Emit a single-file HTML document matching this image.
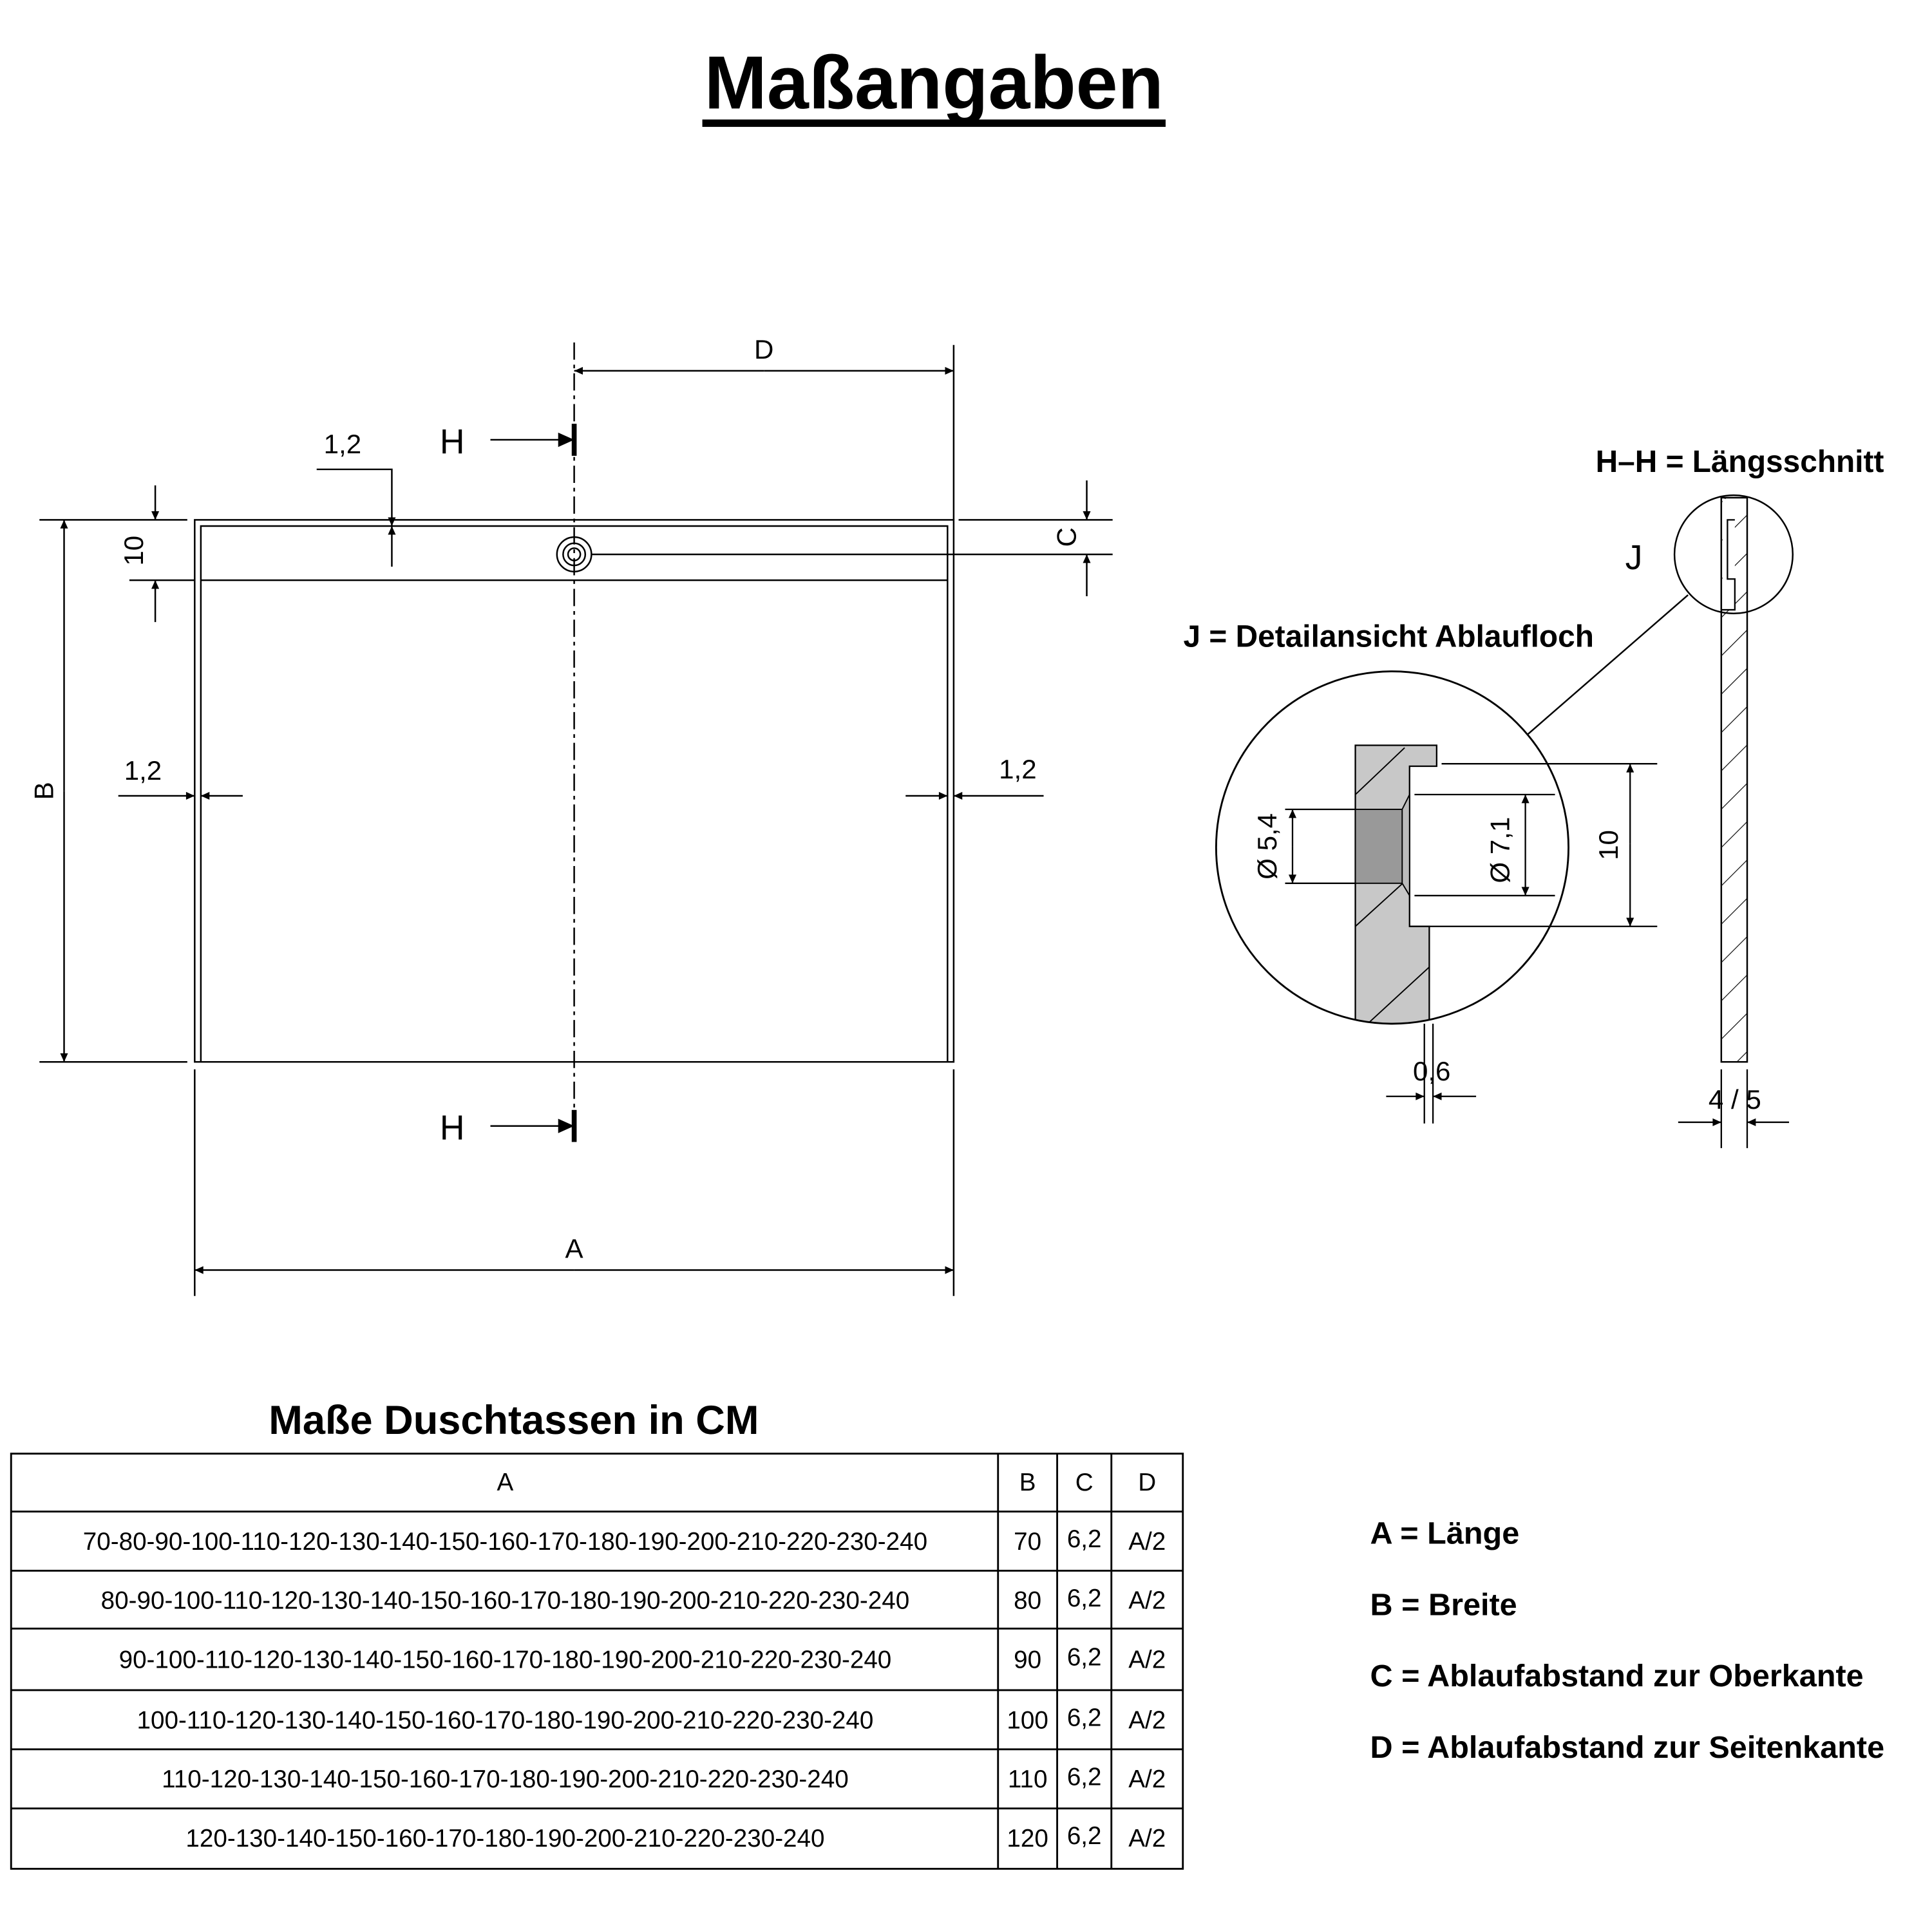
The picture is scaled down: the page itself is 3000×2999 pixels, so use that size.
<!DOCTYPE html>
<html><head><meta charset="utf-8"><style>
html,body{margin:0;padding:0;background:#fff}
svg{display:block}
text{font-family:"Liberation Sans",sans-serif;fill:#000}
</style></head><body>
<svg width="3000" height="2999" viewBox="0 0 1568 1567.5" xmlns="http://www.w3.org/2000/svg">
<defs>
<marker id="ar" viewBox="0 0 10 10" refX="10" refY="5" markerWidth="18" markerHeight="7" markerUnits="userSpaceOnUse" orient="auto"><path d="M0,0.5 L10,5 L0,9.5 z" fill="#000"/></marker>
<marker id="big" viewBox="0 0 10 10" refX="10" refY="5" markerWidth="32" markerHeight="13" markerUnits="userSpaceOnUse" orient="auto"><path d="M0,0.5 L10,5 L0,9.5 z" fill="#000"/></marker>
<pattern id="hatch" width="22" height="22" patternUnits="userSpaceOnUse" patternTransform="rotate(45)"><line x1="0" y1="0" x2="0" y2="22" stroke="#000" stroke-width="1.2"/></pattern>
<clipPath id="bc"><circle cx="1130" cy="688" r="143"/></clipPath>
</defs>
<rect width="1568" height="1568" fill="#fff"/>
<text x="758" y="88" font-size="61" font-weight="bold" text-anchor="middle">Maßangaben</text>
<rect x="570" y="97" width="376" height="6" fill="#000"/>

<g stroke="#000" stroke-width="1.3" fill="none">
<rect x="158" y="422" width="616" height="440"/>
<polyline points="163,862 163,427 769,427 769,862"/>
<line x1="163" y1="471" x2="769" y2="471"/>
<circle cx="466" cy="450" r="14"/><circle cx="466" cy="450" r="9"/><circle cx="466" cy="450" r="5"/>
<line x1="480" y1="450" x2="769" y2="450"/>
<line x1="466" y1="278" x2="466" y2="925" stroke-dasharray="14,4,3,4"/>
<line x1="774" y1="280" x2="774" y2="422"/>
<line x1="620" y1="301" x2="774" y2="301" marker-end="url(#ar)"/>
<line x1="620" y1="301" x2="466" y2="301" marker-end="url(#ar)"/>
<line x1="158" y1="868" x2="158" y2="1052"/><line x1="774" y1="868" x2="774" y2="1052"/>
<line x1="466" y1="1031" x2="774" y2="1031" marker-end="url(#ar)"/>
<line x1="466" y1="1031" x2="158" y2="1031" marker-end="url(#ar)"/>
<line x1="32" y1="422" x2="152" y2="422"/><line x1="32" y1="862" x2="152" y2="862"/>
<line x1="52" y1="642" x2="52" y2="862" marker-end="url(#ar)"/>
<line x1="52" y1="642" x2="52" y2="422" marker-end="url(#ar)"/>
<line x1="105" y1="471" x2="158" y2="471"/>
<line x1="126" y1="394" x2="126" y2="422" marker-end="url(#ar)"/>
<line x1="126" y1="505" x2="126" y2="471" marker-end="url(#ar)"/>
<polyline points="257,381 318,381 318,427" marker-end="url(#ar)"/>
<line x1="318" y1="460" x2="318" y2="427" marker-end="url(#ar)"/>
<line x1="96" y1="646" x2="158" y2="646" marker-end="url(#ar)"/>
<line x1="197" y1="646" x2="163" y2="646" marker-end="url(#ar)"/>
<line x1="735" y1="646" x2="769" y2="646" marker-end="url(#ar)"/>
<line x1="847" y1="646" x2="774" y2="646" marker-end="url(#ar)"/>
<line x1="778" y1="422" x2="903" y2="422"/><line x1="769" y1="450" x2="903" y2="450"/>
<line x1="882" y1="390" x2="882" y2="422" marker-end="url(#ar)"/>
<line x1="882" y1="484" x2="882" y2="450" marker-end="url(#ar)"/>
<line x1="398" y1="357" x2="466" y2="357" marker-end="url(#big)"/>
<line x1="398" y1="914" x2="466" y2="914" marker-end="url(#big)"/>
</g>
<rect x="464" y="344" width="4" height="26" fill="#000"/>
<rect x="464" y="901" width="4" height="26" fill="#000"/>
<g font-size="22" text-anchor="middle">
<text x="620" y="291">D</text>
<text x="466" y="1021">A</text>
<text x="278" y="368">1,2</text>
<text x="116" y="633">1,2</text>
<text x="826" y="632">1,2</text>
<text x="367" y="368" font-size="28">H</text>
<text x="367" y="925" font-size="28">H</text>
<text transform="translate(43,642) rotate(-90)">B</text>
<text transform="translate(116,447) rotate(-90)">10</text>
<text transform="translate(873,436) rotate(-90)">C</text>
</g>

<text x="1412" y="383" font-size="25" font-weight="bold" text-anchor="middle">H–H = Längsschnitt</text>
<rect x="1397" y="404" width="21" height="458" fill="url(#hatch)" stroke="#000" stroke-width="1.3"/>
<rect x="1398" y="405" width="10" height="90" fill="#fff"/>
<polyline points="1397,404 1397,495 1408,495 1408,470 1402,470 1402,422 1408,422" fill="none" stroke="#000" stroke-width="1.2"/>
<circle cx="1407" cy="450" r="48" fill="none" stroke="#000" stroke-width="1.3"/>
<text x="1326" y="462" font-size="28" text-anchor="middle">J</text>
<line x1="1370" y1="483" x2="1240" y2="596" stroke="#000" stroke-width="1.3"/>
<text x="1127" y="525" font-size="25" font-weight="bold" text-anchor="middle">J = Detailansicht Ablaufloch</text>

<g clip-path="url(#bc)">
<path d="M1100,605 L1166,605 L1166,622 L1144,622 L1144,752 L1160,752 L1160,840 L1100,840 Z" fill="#c8c8c8" stroke="#000" stroke-width="1.2"/>
<g stroke="#000" stroke-width="1"><line x1="1100" y1="645" x2="1140" y2="607"/><line x1="1100" y1="752" x2="1144" y2="712"/><line x1="1110" y1="831" x2="1160" y2="785"/></g>
<rect x="1100" y="657" width="40" height="60" fill="#999" stroke="#000" stroke-width="1"/>
<path d="M1138,657 L1144,645 L1144,727 L1138,717 Z" fill="#bbb" stroke="#000" stroke-width="1"/>
</g>
<circle cx="1130" cy="688" r="143" fill="none" stroke="#000" stroke-width="1.5"/>
<g stroke="#000" stroke-width="1.2" fill="none">
<line x1="1170" y1="620" x2="1345" y2="620"/><line x1="1144" y1="752" x2="1345" y2="752"/>
<line x1="1323" y1="685" x2="1323" y2="620" marker-end="url(#ar)"/><line x1="1323" y1="685" x2="1323" y2="752" marker-end="url(#ar)"/>
<line x1="1148" y1="645" x2="1262" y2="645"/><line x1="1148" y1="727" x2="1262" y2="727"/>
<line x1="1238" y1="686" x2="1238" y2="645" marker-end="url(#ar)"/><line x1="1238" y1="686" x2="1238" y2="727" marker-end="url(#ar)"/>
<line x1="1043" y1="657" x2="1100" y2="657"/><line x1="1043" y1="717" x2="1100" y2="717"/>
<line x1="1049" y1="687" x2="1049" y2="657" marker-end="url(#ar)"/><line x1="1049" y1="687" x2="1049" y2="717" marker-end="url(#ar)"/>
<line x1="1156" y1="831" x2="1156" y2="912"/><line x1="1163" y1="831" x2="1163" y2="912"/>
<line x1="1125" y1="890" x2="1156" y2="890" marker-end="url(#ar)"/><line x1="1198" y1="890" x2="1163" y2="890" marker-end="url(#ar)"/>
<line x1="1397" y1="868" x2="1397" y2="932"/><line x1="1418" y1="868" x2="1418" y2="932"/>
<line x1="1362" y1="911" x2="1397" y2="911" marker-end="url(#ar)"/><line x1="1452" y1="911" x2="1418" y2="911" marker-end="url(#ar)"/>
</g>
<g font-size="22" text-anchor="middle">
<text transform="translate(1313,686) rotate(-90)">10</text>
<text transform="translate(1225,690) rotate(-90)">Ø 7,1</text>
<text transform="translate(1036,687) rotate(-90)">Ø 5,4</text>
<text x="1162" y="877">0,6</text>
<text x="1408" y="900">4 / 5</text>
</g>

<text x="417" y="1164" font-size="33" font-weight="bold" text-anchor="middle">Maße Duschtassen in CM</text>
<g stroke="#000" stroke-width="1.5" fill="none">
<rect x="9" y="1180" width="951" height="337"/>
<line x1="810" y1="1180" x2="810" y2="1517"/><line x1="858" y1="1180" x2="858" y2="1517"/><line x1="902" y1="1180" x2="902" y2="1517"/>
<line x1="9" y1="1227" x2="960" y2="1227"/><line x1="9" y1="1275" x2="960" y2="1275"/><line x1="9" y1="1322" x2="960" y2="1322"/><line x1="9" y1="1372" x2="960" y2="1372"/><line x1="9" y1="1420" x2="960" y2="1420"/><line x1="9" y1="1468" x2="960" y2="1468"/>
</g>
<g font-size="20.2" text-anchor="middle">
<text x="410" y="1210">A</text><text x="834" y="1210">B</text><text x="880" y="1210">C</text><text x="931" y="1210">D</text>
<text x="410" y="1258">70-80-90-100-110-120-130-140-150-160-170-180-190-200-210-220-230-240</text>
<text x="410" y="1306">80-90-100-110-120-130-140-150-160-170-180-190-200-210-220-230-240</text>
<text x="410" y="1354">90-100-110-120-130-140-150-160-170-180-190-200-210-220-230-240</text>
<text x="410" y="1403">100-110-120-130-140-150-160-170-180-190-200-210-220-230-240</text>
<text x="410" y="1451">110-120-130-140-150-160-170-180-190-200-210-220-230-240</text>
<text x="410" y="1499">120-130-140-150-160-170-180-190-200-210-220-230-240</text>
<text x="834" y="1258">70</text><text x="834" y="1306">80</text><text x="834" y="1354">90</text><text x="834" y="1403">100</text><text x="834" y="1451">110</text><text x="834" y="1499">120</text>
<text x="880" y="1256">6,2</text><text x="880" y="1304">6,2</text><text x="880" y="1352">6,2</text><text x="880" y="1401">6,2</text><text x="880" y="1449">6,2</text><text x="880" y="1497">6,2</text>
<text x="931" y="1258">A/2</text><text x="931" y="1306">A/2</text><text x="931" y="1354">A/2</text><text x="931" y="1403">A/2</text><text x="931" y="1451">A/2</text><text x="931" y="1499">A/2</text>
</g>
<g font-size="25.4" font-weight="bold">
<text x="1112" y="1253">A = Länge</text>
<text x="1112" y="1311">B = Breite</text>
<text x="1112" y="1369">C = Ablaufabstand zur Oberkante</text>
<text x="1112" y="1427">D = Ablaufabstand zur Seitenkante</text>
</g>
</svg>
</body></html>
